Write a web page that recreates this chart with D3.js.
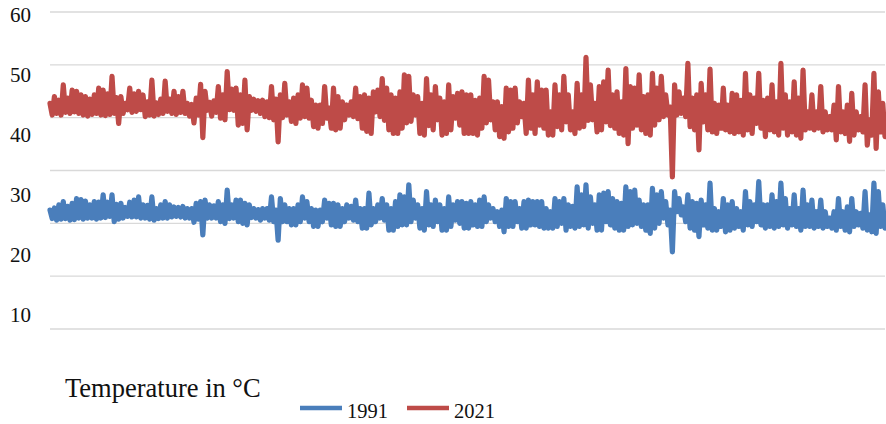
<!DOCTYPE html>
<html><head><meta charset="utf-8">
<script src="https://cdn.jsdelivr.net/npm/d3@7/dist/d3.min.js"></script>
<style>body{margin:0;background:#fff}svg{display:block}</style>
</head><body><svg id="c" width="886" height="424"></svg>
<script>
const seriesNames = ["1991", "2021"];
const seriesColors = ["#4A7EBB", "#BE4B48"];
const gridValues = [0, 10, 20, 30, 40, 50, 60];
const tickLabels = ["60", "50", "40", "30", "20", "10"];
const axisTitle = "Temperature in °C";

const temps1991 = [
22.5,20.9,22.9,20.6,23.5,20.8,24.1,20.9,23.2,20.6,23.8,20.7,24.7,21.0,24.5,20.8,24.2,21.0,23.5,21.0,24.1,20.8,24.0,21.0,25.4,21.1,24.0,21.3,25.4,20.3,23.6,20.8,23.8,21.0,23.0,21.3,24.0,21.2,24.4,21.2,25.0,21.0,23.5,21.0,23.4,20.8,25.0,20.6,22.8,20.9,23.5,21.0,24.1,21.0,23.5,21.2,23.1,21.3,23.0,21.2,23.2,21.0,22.8,21.0,22.8,20.2,23.8,20.8,24.1,17.8,24.4,21.0,23.5,21.0,23.3,21.0,24.1,20.3,23.5,20.0,26.3,20.9,23.5,21.0,24.4,20.3,24.4,20.0,23.8,19.7,23.5,21.1,22.8,21.0,22.6,20.6,
22.8,21.0,22.8,20.6,25.0,20.3,22.5,16.8,24.7,20.3,23.5,20.3,22.8,19.7,22.8,19.7,23.5,20.3,25.0,21.0,24.1,20.3,22.8,19.4,22.5,19.4,22.5,20.3,24.4,21.0,23.8,19.7,23.8,19.4,23.5,19.4,22.8,20.3,23.5,21.0,23.2,20.6,24.4,20.3,22.8,19.1,22.8,19.1,25.7,19.7,22.8,20.3,23.5,21.0,24.7,20.6,23.5,18.7,22.8,18.7,24.1,19.4,25.4,19.7,25.0,19.7,27.3,20.3,24.4,21.0,23.5,19.1,22.8,18.7,26.0,19.7,23.5,19.4,24.4,20.3,23.5,18.7,22.8,18.7,25.0,19.4,23.5,20.6,24.1,20.0,24.1,19.1,23.8,19.1,
24.1,19.7,23.5,19.4,24.4,19.4,25.0,20.3,23.5,21.0,22.8,20.3,22.2,19.4,22.5,18.4,24.7,19.4,24.1,19.4,24.1,20.3,22.8,19.1,24.1,19.1,24.4,19.7,24.1,19.7,24.1,19.4,24.1,19.1,22.8,19.1,22.2,19.1,24.7,19.4,24.1,20.0,24.7,18.7,23.5,19.4,23.2,19.1,26.9,19.4,25.4,19.7,27.3,19.1,25.0,20.0,23.5,18.7,25.4,18.7,25.7,20.3,26.0,19.7,24.7,19.1,24.1,18.7,23.8,18.7,26.9,19.4,26.0,19.7,26.3,20.0,24.4,19.4,23.5,18.7,23.5,18.1,26.6,19.1,25.4,20.0,26.0,21.0,24.1,19.7,22.5,14.6,
26.0,22.2,24.7,21.6,23.1,20.3,25.4,19.1,24.1,18.7,23.8,17.5,24.4,19.7,23.5,19.1,27.6,18.7,22.8,18.7,22.2,19.4,24.7,18.4,23.5,18.7,24.1,19.1,22.8,19.4,22.2,18.7,26.0,19.7,24.1,19.4,23.5,20.3,27.9,19.7,23.5,19.1,23.5,19.4,25.4,19.1,24.1,19.4,27.6,19.7,24.7,19.1,22.8,19.7,25.4,19.4,22.8,18.7,26.3,19.4,23.5,19.4,24.4,19.1,22.2,19.4,24.4,19.1,22.2,19.4,21.0,19.1,22.2,18.7,24.7,19.4,22.2,18.7,23.1,18.4,24.7,19.4,22.2,19.7,21.9,19.1,26.0,18.7,21.6,18.4,27.6,18.1,26.0,19.4,23.5,19.1
];

const temps2021 = [
42.7,40.5,44.0,40.8,43.3,40.5,46.2,41.0,43.7,40.8,45.2,41.1,45.0,40.8,44.3,40.5,44.0,40.3,43.5,40.6,44.3,40.8,45.6,40.5,45.2,40.4,44.5,40.6,47.8,40.8,43.8,38.9,44.0,40.8,42.7,41.5,45.6,41.0,44.5,41.2,45.0,41.5,44.3,40.2,43.0,40.5,47.1,40.3,42.8,40.6,43.5,40.8,46.9,41.2,43.5,40.8,45.0,40.6,44.0,41.0,45.0,40.8,42.7,40.3,42.5,39.0,43.7,40.5,46.3,36.2,45.0,41.4,42.9,40.3,43.2,41.0,45.9,39.9,44.3,39.6,48.7,41.5,45.4,41.4,45.6,38.6,44.3,38.9,47.1,37.7,44.0,41.4,43.5,41.2,43.2,40.8,
43.3,40.2,43.0,40.0,45.9,39.6,43.5,35.4,44.3,40.0,46.5,40.5,43.0,39.3,43.7,38.9,44.3,39.9,46.2,40.2,45.6,39.9,43.3,38.3,42.4,38.0,42.4,38.9,45.9,39.9,41.8,38.0,45.6,37.7,44.0,38.0,43.0,39.6,42.4,40.5,43.0,40.2,45.6,39.8,44.0,38.0,44.3,37.4,43.7,37.0,44.9,41.1,45.2,40.2,47.4,39.5,45.6,37.7,44.3,37.0,43.7,37.0,44.9,38.0,48.1,39.0,47.8,39.3,44.3,40.5,44.0,37.0,42.7,36.7,47.4,38.5,44.3,37.7,45.9,39.6,43.7,36.7,43.0,37.0,46.2,37.7,44.0,39.9,44.6,38.6,44.9,37.0,44.3,37.0,
44.3,37.0,43.3,36.7,43.7,38.0,47.8,39.0,47.1,39.6,43.0,37.7,43.0,36.4,42.1,36.1,45.6,37.3,45.2,38.0,45.6,39.0,43.0,40.2,42.7,37.0,47.1,38.0,44.3,37.0,46.8,38.6,45.2,38.0,45.2,36.7,41.1,36.7,46.2,38.3,44.3,37.7,47.8,39.2,44.3,37.7,41.1,37.0,46.5,38.0,44.3,38.3,51.4,39.5,46.2,39.6,42.7,37.3,45.9,37.7,46.8,39.2,49.0,38.5,44.3,38.0,44.9,37.0,43.0,36.7,49.3,35.1,45.9,38.0,45.6,38.6,48.1,37.7,44.0,37.0,44.3,36.7,48.4,38.6,45.6,39.6,47.8,40.2,44.3,40.5,42.0,28.8,
46.2,40.5,44.9,40.8,43.7,40.2,50.3,38.3,43.7,37.7,44.3,33.9,46.5,39.2,44.3,37.7,49.2,37.3,42.7,37.0,42.4,38.0,45.6,37.7,42.4,37.3,44.6,37.0,44.3,37.3,43.3,36.7,48.4,37.7,44.3,37.0,43.7,38.9,48.4,38.0,43.3,36.4,43.7,37.7,46.2,37.3,43.0,36.7,50.3,38.0,44.3,36.7,43.0,37.3,46.8,36.7,43.7,36.1,49.0,37.7,41.1,38.0,44.3,37.7,41.1,38.0,45.9,37.3,41.1,37.7,40.2,37.7,42.4,35.8,45.9,37.3,41.1,37.0,42.4,35.5,44.6,36.7,41.1,37.7,40.2,37.3,46.2,34.8,39.6,36.7,48.4,34.2,44.9,37.3,42.7,36.4
];

const series = [temps1991, temps2021];
const svg = d3.select("#c");
const n = Math.min(temps1991.length, temps2021.length);

const x = d3.scaleLinear().domain([0, n - 1]).range([50, 885]);
const y = d3.scaleLinear().domain([0, 60]).range([329, 12]);
const labelY = d3.scalePoint().domain(tickLabels).range([15, 315]);

// gridlines
svg.append("g").selectAll("line").data(gridValues).join("line")
  .attr("x1", 50).attr("x2", 885)
  .attr("y1", d => y(d)).attr("y2", d => y(d))
  .attr("stroke", "#d9d9d9").attr("stroke-width", 1.3);

// tick labels
const ax = svg.append("g").attr("transform", "translate(31,0)")
  .call(d3.axisLeft(labelY).tickSize(0).tickPadding(0));
ax.select(".domain").remove();
ax.selectAll("text").attr("font-family", "'Liberation Serif','Times New Roman',serif")
  .attr("font-size", 21).attr("fill", "#111");

// lines
const line = d3.line().x((d, i) => x(i)).y(d => y(d));
svg.append("g").selectAll("path").data(series).join("path")
  .attr("d", d => line(d.slice(0, n)))
  .attr("fill", "none")
  .attr("stroke", (d, i) => seriesColors[i])
  .attr("stroke-width", 5.2)
  .attr("stroke-linejoin", "round")
  .attr("stroke-linecap", "round");

// axis title
svg.append("text").attr("x", 65).attr("y", 397)
  .attr("font-family", "'Liberation Serif','Times New Roman',serif")
  .attr("font-size", 26.5).attr("fill", "#111").text(axisTitle);

// legend
const legendX = d3.scalePoint().domain(seriesNames).range([300, 407]);
const lg = svg.append("g").selectAll("g").data(seriesNames).join("g")
  .attr("transform", d => `translate(${legendX(d)},0)`);
lg.append("line").attr("x1", 0).attr("x2", 42).attr("y1", 408).attr("y2", 408)
  .attr("stroke", (d, i) => seriesColors[i]).attr("stroke-width", 4.5);
lg.append("text").attr("x", 47).attr("y", 417.5)
  .attr("font-family", "'Liberation Serif','Times New Roman',serif")
  .attr("font-size", 20.5).attr("fill", "#111").text(d => d);
</script>
</body></html>
